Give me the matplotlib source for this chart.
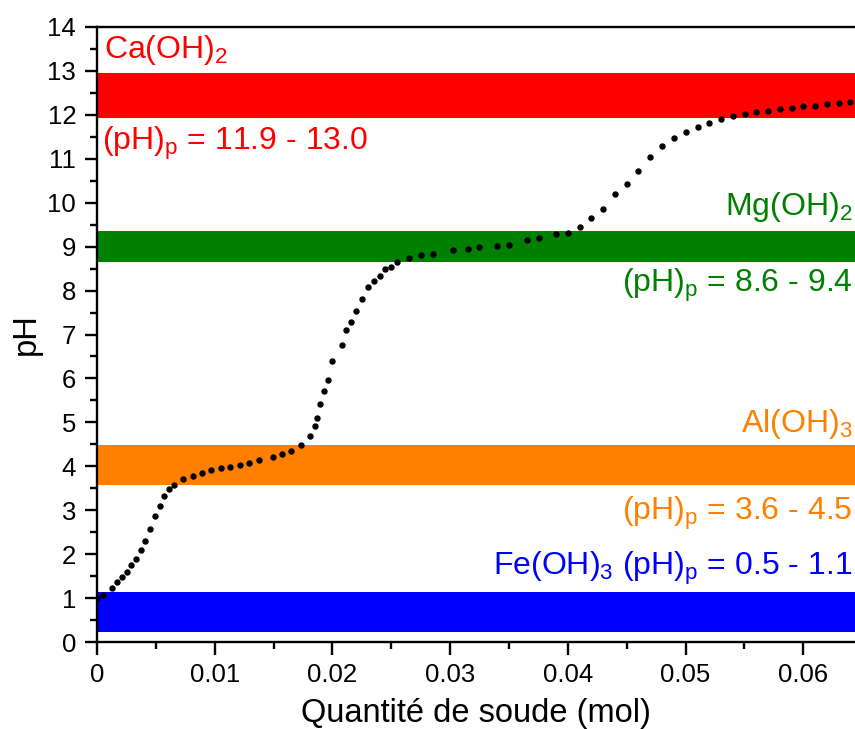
import matplotlib
matplotlib.use('Agg')
import matplotlib.pyplot as plt
from matplotlib.ticker import MultipleLocator

plt.rcParams['font.family'] = ['Liberation Sans', 'DejaVu Sans']
plt.rcParams['mathtext.fontset'] = 'custom'
plt.rcParams['mathtext.rm'] = 'Liberation Sans'
plt.rcParams['mathtext.default'] = 'rm'

# titration curve
soude = [0.0000, 0.00054, 0.0013, 0.00173, 0.00212, 0.00252, 0.00291, 0.00331,
         0.00371, 0.0041, 0.0045, 0.00493, 0.00532, 0.00572, 0.00614, 0.00654,
         0.00733, 0.00812, 0.00892, 0.00971, 0.0105, 0.01133, 0.01212, 0.01294,
         0.01373, 0.01492, 0.01572, 0.01651, 0.0173, 0.0181, 0.0185, 0.01872,
         0.01897, 0.01929, 0.0196, 0.0200, 0.02079, 0.02118, 0.02158, 0.0220,
         0.02249, 0.0230, 0.0235, 0.02401, 0.02449, 0.0250, 0.02551, 0.02651,
         0.0275, 0.02851, 0.03027, 0.03149, 0.03248, 0.03401, 0.0350, 0.03651,
         0.03753, 0.0390, 0.04002, 0.04101, 0.0420, 0.04299, 0.04404, 0.04503,
         0.04599, 0.04701, 0.0480, 0.0490, 0.05001, 0.05103, 0.05202, 0.05304,
         0.05403, 0.05502, 0.05602, 0.05701, 0.0580, 0.05902, 0.06001, 0.0610,
         0.06199, 0.06301, 0.0640]
ph = [1.00, 1.07, 1.24, 1.36, 1.47, 1.59, 1.75, 1.90,
      2.09, 2.31, 2.58, 2.86, 3.09, 3.33, 3.48, 3.58,
      3.72, 3.79, 3.85, 3.91, 3.95, 3.99, 4.04, 4.08,
      4.14, 4.22, 4.27, 4.35, 4.48, 4.69, 4.92, 5.11,
      5.42, 5.71, 5.96, 6.39, 6.77, 7.10, 7.29, 7.53,
      7.81, 8.09, 8.21, 8.34, 8.49, 8.54, 8.64, 8.73,
      8.80, 8.84, 8.92, 8.95, 8.99, 9.02, 9.04, 9.15,
      9.19, 9.29, 9.31, 9.44, 9.65, 9.86, 10.20, 10.43,
      10.73, 11.04, 11.28, 11.48, 11.62, 11.72, 11.81, 11.90,
      11.97, 12.02, 12.06, 12.08, 12.13, 12.16, 12.19, 12.21,
      12.24, 12.27, 12.29]

# precipitation ranges (band drawn, label)
hydroxides = ['Ca(OH)$_2$', 'Mg(OH)$_2$', 'Al(OH)$_3$', 'Fe(OH)$_3$']
band_low = [11.93, 8.65, 3.57, 0.22]
band_high = [12.95, 9.36, 4.48, 1.15]
ph_ranges = ['11.9 - 13.0', '8.6 - 9.4', '3.6 - 4.5', '0.5 - 1.1']
colors = ['#ff0000', '#008000', '#ff8000', '#0000ff']

fig = plt.figure(figsize=(8.55, 7.29), dpi=100)
ax = fig.add_axes([0.1135, 0.1193, 0.8865, 0.8437])

for lo, hi, c in zip(band_low, band_high, colors):
    ax.axhspan(lo, hi, color=c, lw=0, zorder=1)

ax.plot(soude, ph, 'o', color='black', ms=3.6, zorder=3)

xmax = 0.0644
ax.set_xlim(0, xmax)
ax.set_ylim(0, 14)

fs = 23
xr = 0.0642
ax.text(0.0006, 13.3, hydroxides[0], color=colors[0], fontsize=fs)
ax.text(0.0004, 11.2, '(pH)$_p$ = ' + ph_ranges[0], color=colors[0], fontsize=fs)
ax.text(xr, 9.72, hydroxides[1], color=colors[1], fontsize=fs, ha='right')
ax.text(xr, 7.97, '(pH)$_p$ = ' + ph_ranges[1], color=colors[1], fontsize=fs, ha='right')
ax.text(xr, 4.78, hydroxides[2], color=colors[2], fontsize=fs, ha='right')
ax.text(xr, 2.78, '(pH)$_p$ = ' + ph_ranges[2], color=colors[2], fontsize=fs, ha='right')
ax.text(xr, 1.53, hydroxides[3] + ' (pH)$_p$ = ' + ph_ranges[3],
        color=colors[3], fontsize=fs, ha='right')

ax.xaxis.set_minor_locator(MultipleLocator(0.005))
ax.yaxis.set_major_locator(MultipleLocator(1))
ax.yaxis.set_minor_locator(MultipleLocator(0.5))
ax.set_xticks([0, 0.01, 0.02, 0.03, 0.04, 0.05, 0.06])
ax.set_xticklabels(['0', '0.01', '0.02', '0.03', '0.04', '0.05', '0.06'])

ax.tick_params(which='major', direction='out', length=9, width=1.7, labelsize=18.5, pad=6)
ax.tick_params(which='minor', direction='out', length=5, width=1.7)
for s in ['left', 'bottom', 'top']:
    ax.spines[s].set_linewidth(1.7)
ax.spines['right'].set_visible(False)

ax.set_xlabel('Quantité de soude (mol)', fontsize=23.5, labelpad=8)
ax.set_ylabel('pH', fontsize=23.5, labelpad=4)

fig.savefig('out.png', dpi=100)
